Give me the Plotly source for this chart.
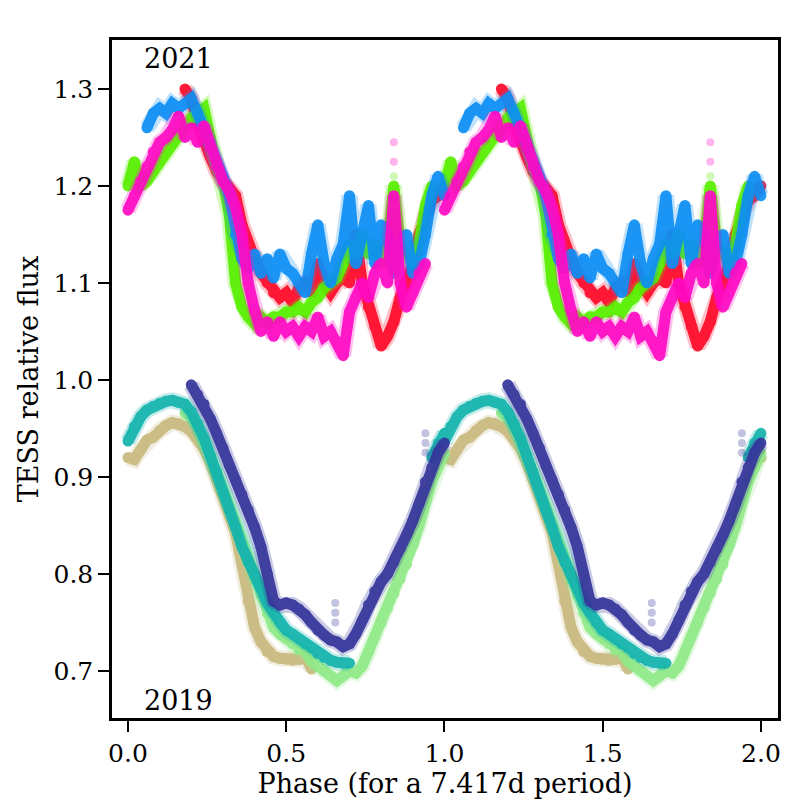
import plotly.graph_objects as go

PHASE = [0.00, 0.02, 0.04, 0.06, 0.08, 0.10, 0.12, 0.14, 0.16, 0.18,
         0.20, 0.22, 0.24, 0.26, 0.28, 0.30, 0.32, 0.34, 0.36, 0.38,
         0.40, 0.42, 0.44, 0.46, 0.48, 0.50, 0.52, 0.54, 0.56, 0.58,
         0.60, 0.62, 0.64, 0.66, 0.68, 0.70, 0.72, 0.74, 0.76, 0.78,
         0.80, 0.82, 0.84, 0.86, 0.88, 0.90, 0.92, 0.94, 0.96, 0.98, 1.00]

N = None
# 2021 sectors
red_2021 = [N, N, N, N, N, N, N, N, N, 1.300,
            1.290, 1.265, 1.245, 1.230, 1.215, 1.205, 1.195, 1.190, 1.160, 1.140,
            1.125, 1.110, 1.100, 1.090, 1.085, 1.090, 1.080, 1.095, 1.100, 1.090,
            1.120, 1.100, 1.090, 1.100, 1.105, 1.100, 1.150, 1.100, 1.075, 1.055,
            1.035, 1.045, 1.060, 1.085, 1.100, 1.120, 1.150, 1.170, 1.185, 1.190, 1.200]
green_2021 = [1.200, 1.225, 1.200, 1.205, 1.215, 1.225, 1.235, 1.245, 1.255, 1.265,
              1.270, 1.275, 1.280, 1.250, 1.220, 1.205, 1.170, 1.100, 1.075, 1.065,
              1.058, 1.065, 1.060, 1.065, 1.065, 1.070, 1.070, 1.075, 1.070, 1.080,
              1.085, 1.095, 1.100, 1.105, 1.120, 1.140, 1.130, 1.150, 1.130, 1.140,
              1.120, 1.140, 1.200, 1.140, 1.130, 1.120, 1.140, 1.180, 1.200, N, N]
blue_2021 = [N, N, N, 1.260, 1.275, 1.280, 1.275, 1.285, 1.280, 1.285,
             1.290, 1.275, 1.260, 1.245, 1.225, 1.210, 1.190, 1.150, 1.125, 1.115,
             1.130, 1.110, 1.125, 1.105, 1.130, 1.115, 1.110, 1.100, 1.090, 1.130,
             1.160, 1.120, 1.100, 1.125, 1.140, 1.190, 1.120, 1.150, 1.180, 1.120,
             1.160, 1.150, 1.110, 1.140, 1.150, 1.110, 1.120, 1.150, 1.190, 1.210, 1.190]
magenta_2021 = [1.175, 1.190, 1.205, 1.220, 1.235, 1.245, 1.250, 1.258, 1.272, 1.250,
                1.260, 1.245, 1.262, 1.240, 1.220, 1.205, 1.195, 1.178, 1.150, 1.100,
                1.072, 1.050, 1.060, 1.045, 1.060, 1.050, 1.055, 1.045, 1.055, 1.050,
                1.065, 1.045, 1.050, 1.040, 1.025, 1.070, 1.085, 1.100, 1.085, 1.110,
                1.120, 1.100, 1.190, 1.100, 1.075, 1.090, 1.110, 1.120, N, N, N]

# 2019 sectors
navy_2019 = [N, N, N, N, N, N, N, N, N, N,
             0.995, 0.985, 0.975, 0.960, 0.945, 0.930, 0.912, 0.897, 0.882, 0.866,
             0.848, 0.828, 0.800, 0.772, 0.768, 0.770, 0.768, 0.764, 0.758, 0.750,
             0.742, 0.737, 0.732, 0.730, 0.725, 0.728, 0.738, 0.752, 0.768, 0.782,
             0.792, 0.800, 0.812, 0.826, 0.840, 0.855, 0.872, 0.895, 0.910, 0.925, 0.935]
teal_2019 = [0.937, 0.952, 0.962, 0.969, 0.973, 0.976, 0.978, 0.979, 0.977, 0.975,
             0.967, 0.955, 0.940, 0.922, 0.905, 0.885, 0.866, 0.848, 0.828, 0.812,
             0.800, 0.785, 0.770, 0.760, 0.750, 0.742, 0.738, 0.733, 0.728, 0.724,
             0.718, 0.714, 0.711, 0.709, 0.708, 0.708, N, N, N, N,
             N, N, N, N, N, N, N, N, 0.920, 0.935, 0.945]
tan_2019 = [0.920, 0.918, 0.928, 0.938, 0.941, 0.948, 0.953, 0.956, 0.955, 0.952,
            0.947, 0.940, 0.929, 0.915, 0.898, 0.880, 0.860, 0.842, 0.810, 0.772,
            0.745, 0.730, 0.720, 0.715, 0.713, 0.712, 0.711, 0.712, 0.715, 0.702,
            N, N, N, N, N, N, N, N, N, N,
            N, N, N, N, N, N, N, N, N, 0.918, 0.920]
lightgreen_2019 = [N, N, N, N, N, N, N, N, N, 0.966,
                   0.962, 0.952, 0.938, 0.922, 0.905, 0.888, 0.870, 0.850, 0.830, 0.812,
                   0.795, 0.778, 0.760, 0.745, 0.738, 0.733, 0.728, 0.722, 0.720, 0.710,
                   0.705, 0.700, 0.695, 0.690, 0.695, 0.700, 0.698, 0.705, 0.720, 0.735,
                   0.750, 0.765, 0.780, 0.795, 0.810, 0.830, 0.850, 0.875, 0.895, 0.910, 0.925]

# sparse outlying points
spike_magenta_x = [0.84, 0.84]
spike_magenta_y = [1.225, 1.245]
spike_green_x = [0.84]
spike_green_y = [1.21]
spike_navy_x = [0.655, 0.655, 0.655, 0.94, 0.94, 0.94]
spike_navy_y = [0.750, 0.760, 0.770, 0.925, 0.935, 0.945]

SERIES = [
    ("tan", tan_2019, "#c8b97e"),
    ("lightgreen", lightgreen_2019, "#90ea88"),
    ("teal", teal_2019, "#14b4ae"),
    ("navy", navy_2019, "#35359b"),
    ("red", red_2021, "#ff0a2a"),
    ("green", green_2021, "#58f000"),
    ("blue", blue_2021, "#0d8ff5"),
    ("magenta", magenta_2021, "#ff0ac4"),
]

SPIKES = [
    (spike_green_x, spike_green_y, "#58f000"),
    (spike_magenta_x, spike_magenta_y, "#ff0ac4"),
    (spike_navy_x, spike_navy_y, "#35359b"),
]


def two_cycles(xs, ys):
    x = list(xs) + [None] + [p + 1 for p in xs]
    y = list(ys) + [None] + list(ys)
    return x, y


fig = go.Figure()
for name, vals, col in SERIES:
    x, y = two_cycles(PHASE, vals)
    # soft halo (scattered semi-transparent points)
    fig.add_trace(go.Scatter(
        x=x, y=y, mode="lines", line=dict(color=col, width=16),
        opacity=0.25, connectgaps=False, hoverinfo="skip",
    ))
    fig.add_trace(go.Scatter(
        x=x, y=y, mode="lines+markers", name=name,
        line=dict(color=col, width=11),
        marker=dict(color=col, size=11),
        opacity=0.92, connectgaps=False, hoverinfo="skip",
    ))

for xs, ys, col in SPIKES:
    x, y = two_cycles(xs, ys)
    fig.add_trace(go.Scatter(
        x=x, y=y, mode="markers",
        marker=dict(color=col, size=8, opacity=0.3),
        hoverinfo="skip",
    ))

font = "DejaVu Serif"
fig.add_annotation(x=0.044, y=1.331, text="2021", showarrow=False,
                   xanchor="left", yanchor="middle",
                   font=dict(family=font, size=27, color="black"))
fig.add_annotation(x=0.044, y=0.670, text="2019", showarrow=False,
                   xanchor="left", yanchor="middle",
                   font=dict(family=font, size=27, color="black"))

axis_common = dict(
    showgrid=False, zeroline=False, showline=True, linecolor="black",
    linewidth=2.5, mirror=True, ticks="outside", ticklen=11, tickwidth=2.2,
    tickcolor="black", tickfont=dict(family=font, size=25, color="black"),
)
fig.update_xaxes(range=[-0.0505, 2.054], tickvals=[0.0, 0.5, 1.0, 1.5, 2.0],
                 ticktext=["0.0", "0.5", "1.0", "1.5", "2.0"],
                 title=dict(text="Phase (for a 7.417d period)",
                            font=dict(family=font, size=27, color="black"), standoff=2),
                 **axis_common)
fig.update_yaxes(range=[0.6515, 1.3505],
                 tickvals=[0.7, 0.8, 0.9, 1.0, 1.1, 1.2, 1.3],
                 ticktext=["0.7", "0.8", "0.9", "1.0", "1.1", "1.2", "1.3"],
                 title=dict(text="TESS relative flux",
                            font=dict(family=font, size=27, color="black"), standoff=8),
                 **axis_common)
fig.update_layout(
    width=800, height=800, showlegend=False,
    plot_bgcolor="white", paper_bgcolor="white",
    margin=dict(l=104, r=30, t=32, b=90),
)
fig.write_html("out.html")
